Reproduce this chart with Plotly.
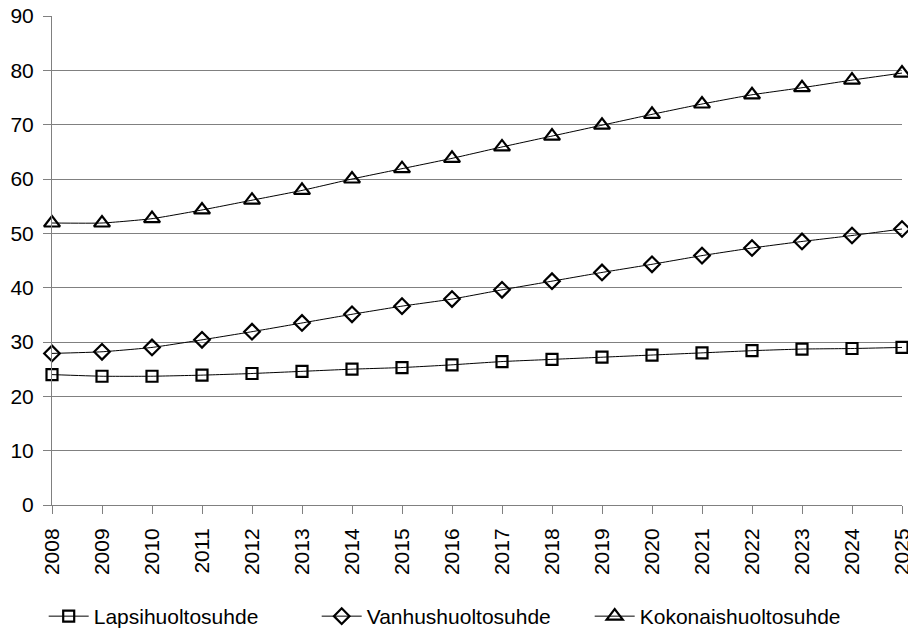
import plotly.graph_objects as go

years = list(range(2008, 2026))
lapsi = [24.0, 23.7, 23.7, 23.9, 24.2, 24.6, 25.0, 25.3, 25.8, 26.4, 26.8, 27.2, 27.6, 28.0, 28.4, 28.7, 28.8, 29.0]
vanhus = [27.9, 28.2, 29.0, 30.4, 31.9, 33.5, 35.1, 36.6, 37.9, 39.6, 41.2, 42.8, 44.3, 45.9, 47.3, 48.5, 49.6, 50.8]
kokonais = [51.9, 51.9, 52.7, 54.3, 56.1, 57.9, 60.0, 61.9, 63.8, 65.9, 67.9, 69.9, 71.9, 73.8, 75.5, 76.8, 78.2, 79.5]
names = ["Lapsihuoltosuhde", "Vanhushuoltosuhde", "Kokonaishuoltosuhde"]
yticks = [0, 10, 20, 30, 40, 50, 60, 70, 80, 90]

FONT = "Liberation Sans Narrow, Arial Narrow, Liberation Sans, Arial, sans-serif"

fig = go.Figure()
for vals, name, sym, sz in [(lapsi, names[0], "square-open", 11),
                            (vanhus, names[1], "diamond-open", 12),
                            (kokonais, names[2], "triangle-up-open", 14)]:
    fig.add_trace(go.Scatter(
        x=years, y=vals, name=name, mode="lines+markers",
        line=dict(color="black", width=1, shape="spline", smoothing=0.5),
        marker=dict(symbol=sym, size=sz, color="black", line=dict(color="black", width=2.2)),
        cliponaxis=False,
    ))

fig.update_layout(
    width=916, height=637,
    margin=dict(l=44, r=22, t=8, b=135),
    paper_bgcolor="white", plot_bgcolor="white",
    font=dict(family=FONT, size=21, color="black"),
    showlegend=True,
    legend=dict(orientation="h", x=0.472, xanchor="center", y=-0.228, yanchor="middle",
                font=dict(size=21), itemwidth=40, traceorder="normal",
                entrywidth=218, entrywidthmode="pixels"),
    xaxis=dict(range=[2008, 2025], tickmode="array", tickvals=years,
               ticktext=[str(y) for y in years], tickangle=-90, automargin=False,
               ticklabeloverflow="allow", ticklabelstandoff=6,
               showgrid=False, zeroline=False, showline=True, linecolor="#808080", linewidth=1,
               ticks="outside", ticklen=8, tickcolor="#808080", tickwidth=1,
               tickfont=dict(size=21)),
    yaxis=dict(range=[0, 90], tickmode="array", tickvals=yticks, automargin=False,
               ticklabeloverflow="allow",
               showgrid=True, gridcolor="#808080", gridwidth=1,
               zeroline=False, showline=True, linecolor="#808080", linewidth=1,
               ticks="outside", ticklen=8, tickcolor="#808080", tickwidth=1,
               tickfont=dict(size=21), ticklabelstandoff=5),
)

fig.write_html("out.html")
